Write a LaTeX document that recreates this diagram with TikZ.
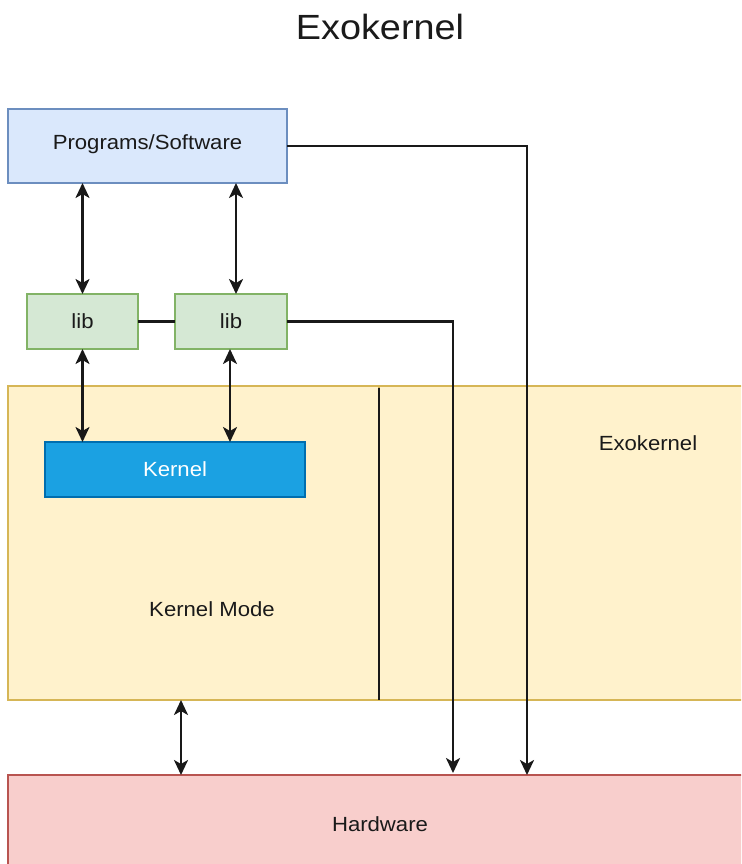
\documentclass[tikz,border=0pt]{standalone}
\usepackage{fontspec}
\setmainfont{Liberation Sans}[FakeStretch=1.08]
\usetikzlibrary{arrows.meta}
\definecolor{progfill}{HTML}{DAE8FC}
\definecolor{progdraw}{HTML}{6C8EBF}
\definecolor{libfill}{HTML}{D5E8D4}
\definecolor{libdraw}{HTML}{82B366}
\definecolor{modefill}{HTML}{FFF2CC}
\definecolor{modedraw}{HTML}{D6B656}
\definecolor{kernfill}{HTML}{1BA1E2}
\definecolor{kerndraw}{HTML}{006EAF}
\definecolor{hwfill}{HTML}{F8CECC}
\definecolor{hwdraw}{HTML}{B85450}
\definecolor{txt}{HTML}{1A1A1A}
\begin{document}
\begin{tikzpicture}[x=1pt,y=-1pt,
  box/.style={draw, line width=1.6pt, anchor=north west, inner sep=0pt, outer sep=0pt,
    font=\fontsize{20.5}{24}\selectfont, text=txt},
  lbl/.style={inner sep=0pt, font=\fontsize{20.5}{24}\selectfont, text=txt},
  conn/.style={line width=2.5pt, draw=black!90},
  tip/.style={-{Stealth[length=15pt,width=14pt,inset=4pt]}},
  bitip/.style={{Stealth[length=15pt,width=14pt,inset=4pt]}-{Stealth[length=15pt,width=14pt,inset=4pt]}}
]
\useasboundingbox (0,0) rectangle (741,864);
\clip (0,0) rectangle (741,864);
\fill[white] (0,0) rectangle (741,864);

\node[inner sep=0pt, font=\fontsize{35}{42}\selectfont, text=txt] (title) at (380,27) {Exokernel};

\node[box, fill=progfill, draw=progdraw, minimum width=279pt, minimum height=74pt] (prog) at (8,109) {};
\node[lbl] (proglabel) at ([yshift=1.5pt]prog.center) {Programs/Software};
\node[box, fill=libfill, draw=libdraw, minimum width=111pt, minimum height=55pt] (lib1) at (27,294) {lib};
\node[box, fill=libfill, draw=libdraw, minimum width=112pt, minimum height=55pt] (lib2) at (175,294) {lib};

\node[box, fill=modefill, draw=modedraw, minimum width=371pt, minimum height=314pt] (kmode) at (8,386) {};
\node[box, fill=modefill, draw=modedraw, minimum width=390pt, minimum height=314pt] (exo) at (379,386) {};
\node[lbl] (kmlabel) at (212,609) {Kernel Mode};
\node[lbl] (exolabel) at (648,443) {Exokernel};
\draw[conn] ([yshift=-2pt]exo.north west) -- (exo.south west);

\node[box, fill=kernfill, draw=kerndraw, text=white, minimum width=260pt, minimum height=55pt] (kernel) at (45,442) {Kernel};

\node[box, fill=hwfill, draw=hwdraw, minimum width=770pt, minimum height=120pt] (hw) at (8,775) {};
\node[lbl] (hwlabel) at (380,824) {Hardware};

% prog <-> libs
\draw[conn, bitip] (lib1.north |- prog.south) -- (lib1.north);
\draw[conn, bitip] ([xshift=5pt]lib2.north |- prog.south) -- ([xshift=5pt]lib2.north);
% lib - lib
\draw[conn] (lib1.east) -- (lib2.west);
% libs <-> kernel
\draw[conn, bitip] (lib1.south) -- (lib1.south |- kernel.north);
\draw[conn, bitip] ([xshift=-1pt]lib2.south) -- ([xshift=-1pt]lib2.south |- kernel.north);
% kernel mode <-> hardware
\draw[conn, bitip] ([xshift=-12.5pt]kmode.south) -- ([xshift=-12.5pt]kmode.south |- hw.north);
% direct paths to hardware
\coordinate (h1) at (453,773);
\coordinate (h2) at (527,775);
\draw[conn, tip] (lib2.east) -| (h1);
\draw[conn, tip] (prog.east) -| (h2);
\end{tikzpicture}
\end{document}
